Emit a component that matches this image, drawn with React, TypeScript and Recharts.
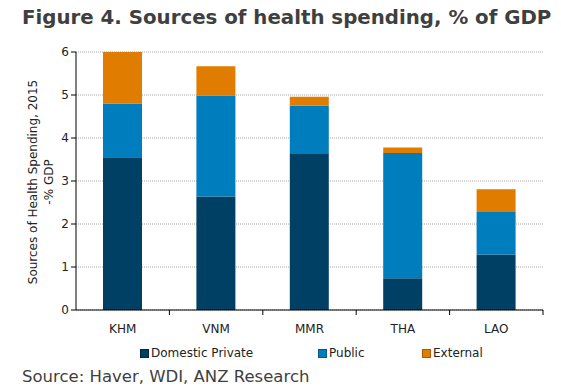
import React from "react";
import { BarChart, Bar, XAxis, YAxis, CartesianGrid } from "recharts";

const countries = ["KHM", "VNM", "MMR", "THA", "LAO"];
const domesticPrivate = [3.55, 2.64, 3.63, 0.74, 1.29];
const publicSpend = [1.25, 2.35, 1.12, 2.91, 0.99];
const external = [1.2, 0.68, 0.21, 0.13, 0.53];
const yTicks = [0, 1, 2, 3, 4, 5, 6];

const seriesInfo = [
  { key: "Domestic Private", color: "#004064", border: "#00263c" },
  { key: "Public", color: "#007dbd", border: "#005a8a" },
  { key: "External", color: "#e07d00", border: "#a85c00" },
];

const chartData = countries.map((c, i) => ({
  name: c,
  "Domestic Private": domesticPrivate[i],
  Public: publicSpend[i],
  External: external[i],
}));

const FONT = "'DejaVu Sans', Verdana, sans-serif";

const CategoryTick = (props: any) => {
  const { x, y, payload } = props;
  const half = payload && payload.offset ? payload.offset : 0;
  return (
    <g>
      <line x1={x + half} x2={x + half} y1={y - 8} y2={y - 3} stroke="#000" strokeWidth={1} />
      <text x={x} y={y + 15} textAnchor="middle" fontSize={12} fill="#222" fontFamily={FONT}>
        {payload.value}
      </text>
    </g>
  );
};

const YLabel = () => (
  <g>
    <text
      transform="translate(37,182) rotate(-90)"
      textAnchor="middle"
      fontSize={12}
      fill="#222"
      fontFamily={FONT}
    >
      Sources of Health Spending, 2015
    </text>
    <text
      transform="translate(53,182) rotate(-90)"
      textAnchor="middle"
      fontSize={12}
      fill="#222"
      fontFamily={FONT}
    >
      -% GDP
    </text>
  </g>
);

const ChartLegend = () => (
  <div
    style={{
      position: "absolute",
      left: 0,
      top: 346,
      width: 561,
      height: 16,
      fontFamily: FONT,
      fontSize: 12,
      color: "#222",
    }}
  >
    {seriesInfo.map((s, i) => (
      <div
        key={s.key}
        style={{
          position: "absolute",
          left: [140, 318, 422][i],
          top: 0,
          display: "flex",
          alignItems: "center",
          whiteSpace: "nowrap",
        }}
      >
        <span
          style={{
            display: "inline-block",
            width: 7,
            height: 7,
            background: s.color,
            border: `1px solid ${s.border}`,
            marginRight: 2,
          }}
        />
        {s.key}
      </div>
    ))}
  </div>
);

export default function App() {
  return (
    <div
      style={{
        position: "absolute",
        left: 0,
        top: 0,
        width: 561,
        height: 391,
        background: "#fff",
        overflow: "hidden",
      }}
    >
      <div
        style={{
          position: "absolute",
          left: 22,
          top: 6,
          fontFamily: FONT,
          fontWeight: "bold",
          fontSize: 19.8,
          color: "#3f3f3f",
          whiteSpace: "nowrap",
        }}
      >
        Figure 4. Sources of health spending, % of GDP
      </div>
      <div style={{ position: "absolute", left: 0, top: 0 }}>
        <BarChart
          width={561}
          height={391}
          data={chartData}
          margin={{ top: 52, right: 18, left: 0, bottom: 51 }}
          barSize={39}
        >
          <CartesianGrid vertical={false} stroke="#a8a8a8" strokeDasharray="1 1" />
          <XAxis
            dataKey="name"
            height={30}
            axisLine={{ stroke: "#000" }}
            tickLine={false}
            tick={<CategoryTick />}
            interval={0}
          />
          <YAxis
            width={76}
            domain={[0, 6]}
            ticks={yTicks}
            interval={0}
            axisLine={{ stroke: "#000" }}
            tickLine={{ stroke: "#000" }}
            tickSize={5}
            tick={{ fontSize: 12, fill: "#222", fontFamily: FONT }}
          />
          {seriesInfo.map((s) => (
            <Bar key={s.key} dataKey={s.key} stackId="a" fill={s.color} isAnimationActive={false} />
          ))}
          <YLabel />
        </BarChart>
      </div>
      <ChartLegend />
      <div
        style={{
          position: "absolute",
          left: 22,
          top: 367,
          fontFamily: FONT,
          fontSize: 16.5,
          color: "#3f3f3f",
          whiteSpace: "nowrap",
        }}
      >
        Source: Haver, WDI, ANZ Research
      </div>
    </div>
  );
}
